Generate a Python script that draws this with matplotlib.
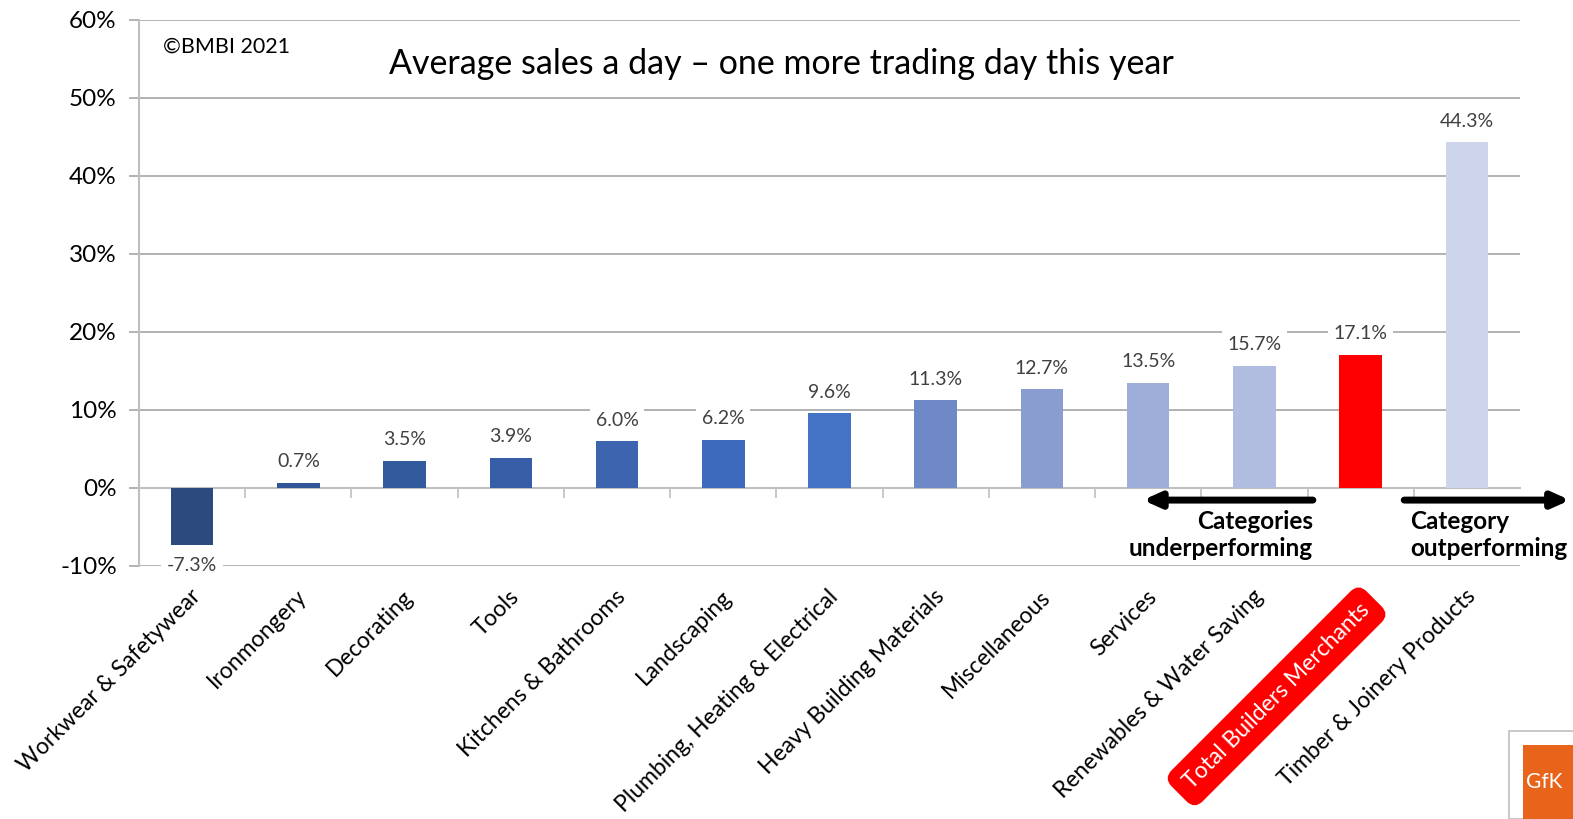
import matplotlib
matplotlib.use("Agg")
import matplotlib.pyplot as plt
from matplotlib.patches import Rectangle
from matplotlib.transforms import blended_transform_factory

plt.rcParams['font.family'] = ['Lato', 'DejaVu Sans']

categories = ["Workwear & Safetywear", "Ironmongery", "Decorating", "Tools",
              "Kitchens & Bathrooms", "Landscaping", "Plumbing, Heating & Electrical",
              "Heavy Building Materials", "Miscellaneous", "Services",
              "Renewables & Water Saving", "Total Builders Merchants",
              "Timber & Joinery Products"]
values = [-7.3, 0.7, 3.5, 3.9, 6.0, 6.2, 9.6, 11.3, 12.7, 13.5, 15.7, 17.1, 44.3]
colors = ["#2C4A7E", "#2F5597", "#345A9E", "#365DA5", "#3C64AF", "#3E6ABD",
          "#4472C4", "#6F89C8", "#899DD0", "#9EAED8", "#B0BDE0", "#FF0000", "#CED5EA"]
y_ticks = [-10, 0, 10, 20, 30, 40, 50, 60]
title = "Average sales a day \u2013 one more trading day this year"
copyright_text = "\u00a9BMBI 2021"

fig = plt.figure(figsize=(15.73, 8.19), dpi=100)
ax = fig.add_axes([139/1573, 1-566/819, (1520-139)/1573, (566-20)/819])

x = list(range(len(categories)))
ax.bar(x, values, width=0.4, color=colors, zorder=3)

ax.set_xlim(-0.5, len(categories)-0.5)
ax.set_ylim(-10, 60)
ax.set_yticks(y_ticks)
ax.set_yticklabels([f"{t}%" for t in y_ticks], fontsize=17.5)
ax.yaxis.grid(True, color="#A6A6A6", linewidth=1.2, zorder=0)
ax.set_axisbelow(True)
ax.tick_params(axis='y', length=7, color="#A6A6A6", width=1.2, pad=9)
for s in ['top', 'right']:
    ax.spines[s].set_visible(False)
ax.spines['left'].set_color("#BFBFBF")
ax.spines['left'].set_linewidth(1.5)
ax.spines['bottom'].set_position(('data', 0))
ax.spines['bottom'].set_color("#BFBFBF")
ax.spines['bottom'].set_linewidth(1.5)
ax.set_xticks([i + 0.5 for i in range(len(categories) - 1)])
ax.set_xticklabels([])
ax.tick_params(axis='x', length=7, color="#BFBFBF", width=1.2, direction='out')

# data labels
for i, v in enumerate(values):
    off = 15 if v >= 0 else -15
    ax.annotate(f"{v:.1f}%", (i, v), xytext=(0, off), textcoords='offset points',
                ha='center', va='center', fontsize=14, color="#404040", zorder=4,
                bbox=dict(boxstyle='square,pad=0.3', fc='white', ec='none'))

# category labels
trans = blended_transform_factory(ax.transData, ax.transAxes)
for i, c in enumerate(categories):
    if c == "Total Builders Merchants":
        ax.text(i + 0.05, -0.075, c, transform=trans, rotation=45, rotation_mode='anchor',
                ha='right', va='center', fontsize=16.5, color='white',
                bbox=dict(boxstyle='round,pad=0.5,rounding_size=0.5', fc='#FF0000', ec='none'))
    else:
        ax.text(i + 0.05, -0.05, c, transform=trans, rotation=45, rotation_mode='anchor',
                ha='right', va='center', fontsize=16.5, color='black')

# arrows
ax.annotate("", xy=(8.95, -1.55), xytext=(10.55, -1.55),
            arrowprops=dict(arrowstyle='-|>,head_length=1.0,head_width=0.45', lw=5, color='black',
                            shrinkA=0, shrinkB=0), annotation_clip=False)
ax.annotate("", xy=(12.97, -1.55), xytext=(11.41, -1.55),
            arrowprops=dict(arrowstyle='-|>,head_length=1.0,head_width=0.45', lw=5, color='black',
                            shrinkA=0, shrinkB=0), annotation_clip=False)
ax.text(10.55, -2.8, "Categories\nunderperforming", ha='right', va='top', fontsize=17.5,
        fontweight='bold', linespacing=1.2)
ax.text(11.47, -2.8, "Category\noutperforming", ha='left', va='top', fontsize=17.5,
        fontweight='bold', linespacing=1.2)

# title and copyright
fig.text(781/1573, 1-64/819, title, ha='center', va='center', fontsize=24.5)
fig.text(163/1573, 1-47/819, copyright_text, ha='left', va='center', fontsize=15.5)

# logo fragment
fig.patches.append(Rectangle((1509/1573, 0), 70/1573, (819-731)/819, transform=fig.transFigure,
                             fc='white', ec='#BFBFBF', lw=1.2))
fig.patches.append(Rectangle((1523/1573, 0), 60/1573, (819-745)/819, transform=fig.transFigure,
                             fc='#E8641B', ec='none'))
fig.text(1526/1573, 1-782/819, "GfK", ha='left', va='center', fontsize=15, color='white')

fig.savefig("out.png", dpi=100)
